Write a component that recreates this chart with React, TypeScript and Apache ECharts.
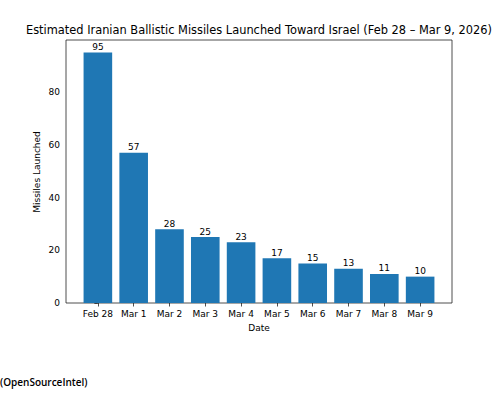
import React, { useEffect, useRef } from "react";
import * as echarts from "echarts";

const categories = ["Feb 28", "Mar 1", "Mar 2", "Mar 3", "Mar 4", "Mar 5", "Mar 6", "Mar 7", "Mar 8", "Mar 9"];
const missiles = [95, 57, 28, 25, 23, 17, 15, 13, 11, 10];
const yTicks = [0, 20, 40, 60, 80];
const titleText = "Estimated Iranian Ballistic Missiles Launched Toward Israel (Feb 28 – Mar 9, 2026)";
const sourceText = "(OpenSourceIntel)";

const FONT = "DejaVu Sans";

export default function App() {
  const ref = useRef<HTMLDivElement>(null);
  useEffect(() => {
    if (!ref.current) return;
    const chart = echarts.init(ref.current, undefined, { renderer: "svg" });
    const idx = categories.map((_, i) => i);
    const maxV = Math.max(...missiles) * 1.05;
    chart.setOption({
      animation: false,
      backgroundColor: "#fff",
      grid: {
        left: 66,
        top: 40,
        width: 386,
        height: 263,
        show: true,
        borderColor: "#222",
        borderWidth: 0.8,
        backgroundColor: "transparent",
      },
      xAxis: {
        type: "value",
        min: -0.89,
        max: categories.length - 1 + 0.89,
        splitLine: { show: false },
        axisLine: { show: false },
        axisTick: { show: true, length: 3.5, customValues: idx, lineStyle: { color: "#222", width: 0.8 } },
        axisLabel: {
          customValues: idx,
          formatter: (v: number) => categories[Math.round(v)] ?? "",
          fontFamily: FONT,
          fontSize: 9,
          color: "#000",
          margin: 6,
        },
      },
      yAxis: {
        type: "value",
        min: 0,
        max: maxV,
        interval: 20,
        splitLine: { show: false },
        axisLine: { show: false },
        axisTick: { show: true, length: 3.5, customValues: yTicks, lineStyle: { color: "#222", width: 0.8 } },
        axisLabel: {
          customValues: yTicks,
          fontFamily: FONT,
          fontSize: 9,
          color: "#000",
          margin: 6,
        },
      },
      series: [
        {
          type: "bar",
          data: missiles.map((v, i) => [i, v]),
          barWidth: 28.6,
          itemStyle: { color: "#1f77b4" },
          label: {
            show: true,
            position: "top",
            distance: 1,
            fontFamily: FONT,
            fontSize: 9,
            color: "#000",
            formatter: (p: any) => String(p.value[1]),
          },
        },
      ],
      graphic: [
        {
          type: "text",
          x: 259,
          y: 30,
          style: { text: titleText, fontFamily: FONT, fontSize: 11.4, fill: "#000", textAlign: "center", textVerticalAlign: "middle" },
        },
        {
          type: "text",
          x: 37,
          y: 172,
          rotation: Math.PI / 2,
          style: { text: "Missiles Launched", fontFamily: FONT, fontSize: 9, fill: "#000", textAlign: "center", textVerticalAlign: "middle" },
        },
        {
          type: "text",
          x: 259,
          y: 328,
          style: { text: "Date", fontFamily: FONT, fontSize: 9, fill: "#000", textAlign: "center", textVerticalAlign: "middle" },
        },
        {
          type: "text",
          x: 0,
          y: 382,
          style: { text: sourceText, fontFamily: "Open Sans", fontSize: 10, fontWeight: 600, fill: "#000", textAlign: "left", textVerticalAlign: "middle" },
        },
      ],
    });
    return () => chart.dispose();
  }, []);
  return <div ref={ref} style={{ position: "fixed", left: 0, top: 0, width: 502, height: 393 }} />;
}
